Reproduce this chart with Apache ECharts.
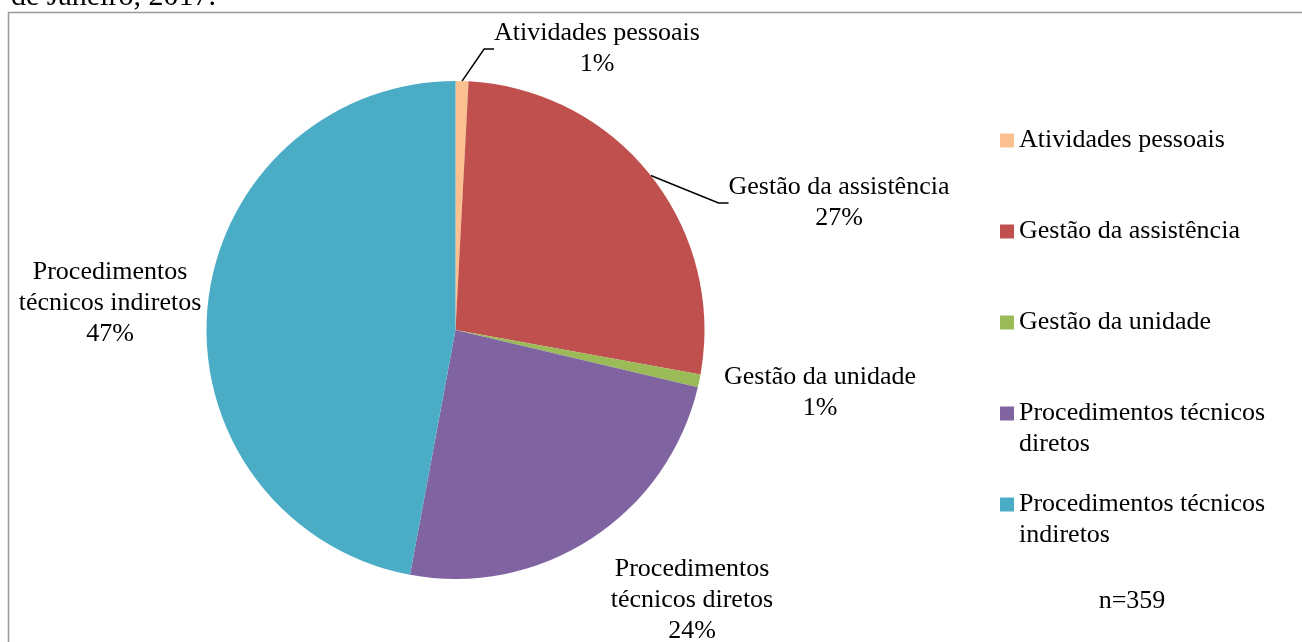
<!DOCTYPE html>
<html>
<head>
<meta charset="utf-8">
<script src="https://cdn.jsdelivr.net/npm/echarts@6/dist/echarts.min.js"></script>
<style>
  html, body { margin: 0; padding: 0; background: #fff; }
  #chart { width: 1302px; height: 642px; }
</style>
</head>
<body>
<div id="chart"></div>
<script>
// categorias e contagens (n=359)
const categories = [
  "Atividades pessoais",
  "Gestão da assistência",
  "Gestão da unidade",
  "Procedimentos técnicos diretos",
  "Procedimentos técnicos indiretos",
];
const counts = [3, 97, 3, 87, 169];
const labelNames = [
  "Atividades pessoais",
  "Gestão da assistência",
  "Gestão da unidade",
  "Procedimentos\ntécnicos diretos",
  "Procedimentos\ntécnicos indiretos",
];
const legendNames = [
  "Atividades pessoais",
  "Gestão da assistência",
  "Gestão da unidade",
  "Procedimentos técnicos\ndiretos",
  "Procedimentos técnicos\nindiretos",
];
const colors = ["#FAC08F", "#C0504D", "#9BBB59", "#8064A2", "#4BACC6"];
// onde o Excel pôs cada rótulo (centro do bloco de texto)
const labelPos = [
  [597, 49],
  [839, 203],
  [820, 393],
  [692, 600],
  [110, 303],
];
const showLine = [true, true, false, false, false];

const font = "'Liberation Serif', 'Times New Roman', serif";

const chart = echarts.init(document.getElementById("chart"));

const option = {
  backgroundColor: "#fff",
  animation: false,
  title: [
    {
      text: "de Janeiro, 2017.",
      left: 6,
      top: -23,
      textStyle: { fontFamily: font, fontSize: 30, fontWeight: "normal", color: "#000" },
    },
    {
      text: "n=359",
      left: 1127,
      top: 583,
      textAlign: "center",
      textStyle: { fontFamily: font, fontSize: 26, fontWeight: "normal", color: "#000" },
    },
  ],
  graphic: [
    {
      type: "rect",
      shape: { x: 8.5, y: 12.5, width: 1300, height: 640 },
      style: { fill: "none", stroke: "#999", lineWidth: 1.5 },
    },
  ],
  legend: {
    orient: "vertical",
    left: 995,
    top: 89,
    itemWidth: 14,
    itemHeight: 14,
    itemGap: -2,
    icon: "rect",
    data: categories,
    formatter: (name) => {
      const parts = legendNames[categories.indexOf(name)].split("\n");
      return "\n" + parts[0] + "\n" + (parts[1] || "");
    },
    textStyle: { fontFamily: font, fontSize: 26, color: "#000", lineHeight: 31, padding: [0, 0, 0, 0] },
  },
  series: [
    {
      type: "pie",
      center: [455.5, 330],
      radius: 249,
      startAngle: 90,
      clockwise: true,
      avoidLabelOverlap: false,
      itemStyle: { borderWidth: 0 },
      label: {
        show: true,
        position: "outside",
        fontFamily: font,
        fontSize: 26,
        lineHeight: 31,
        color: "#000",
        align: "center",
        formatter: (p) => labelNames[p.dataIndex] + "\n" + Math.round(p.percent) + "%",
      },
      labelLine: { show: true, lineStyle: { color: "#000", width: 1.5 }, length: 10, length2: 10 },
      labelLayout: (p) => ({
        x: labelPos[p.dataIndex][0],
        y: labelPos[p.dataIndex][1],
        align: "center",
        verticalAlign: "middle",
      }),
      emphasis: { disabled: true },
      data: categories.map((name, i) => ({
        name,
        value: counts[i],
        itemStyle: { color: colors[i] },
        labelLine: { show: showLine[i] },
      })),
    },
  ],
};

chart.setOption(option);
</script>
</body>
</html>
